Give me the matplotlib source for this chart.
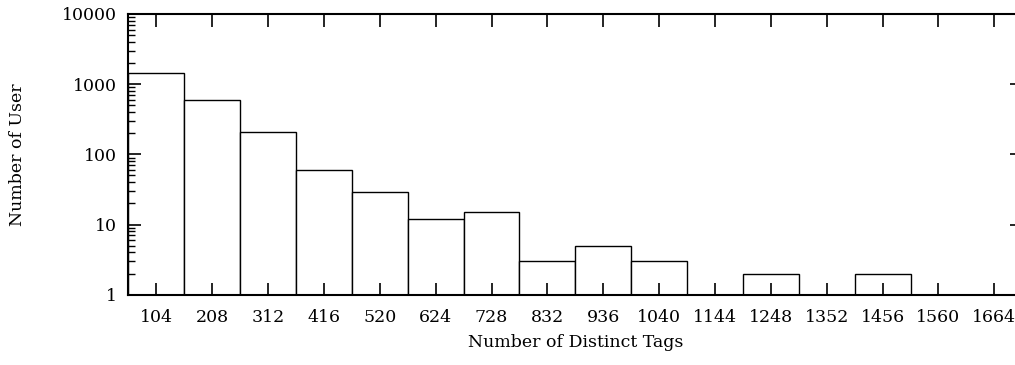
import numpy as np
import matplotlib
matplotlib.use("Agg")
import matplotlib.pyplot as plt
from matplotlib.ticker import LogLocator, NullFormatter, FixedLocator

plt.rcParams['font.family'] = ['DejaVu Serif']

# histogram of distinct tags per user
bins = ["104", "208", "312", "416", "520", "624", "728", "832",
        "936", "1040", "1144", "1248", "1352", "1456", "1560", "1664"]
users = [1420, 590, 205, 60, 29, 12, 15, 3, 5, 3, 1, 2, 1, 2, 1, 1]

fig = plt.figure(figsize=(10.15, 3.65), dpi=100)
ax = fig.add_axes([128.4 / 1015, 1 - 294.7 / 365, (1022.3 - 128.4) / 1015, (294.7 - 14) / 365])

x = np.arange(len(bins))
ax.bar(x, users, width=1.0, bottom=0.0, color='white', edgecolor='black', linewidth=1.0)
ax.set_yscale('log')
ax.set_ylim(1, 10000)
ax.set_xlim(-0.5, len(bins) - 0.5)

ax.set_xticks(x)
ax.set_xticklabels(bins)
ax.yaxis.set_major_locator(FixedLocator([1, 10, 100, 1000, 10000]))
ax.set_yticklabels(["1", "10", "100", "1000", "10000"])
ax.yaxis.set_minor_locator(LogLocator(base=10, subs=np.arange(2, 10)))
ax.yaxis.set_minor_formatter(NullFormatter())

ax.tick_params(axis='both', which='major', direction='in', length=9, width=1.2,
               top=True, right=True, labelsize=12.5)
ax.tick_params(axis='x', which='major', pad=10)
ax.tick_params(axis='y', which='major', pad=8)
ax.tick_params(axis='y', which='minor', direction='in', length=5, width=1.0, right=False)
for s in ax.spines.values():
    s.set_linewidth(1.5)

ax.set_xlabel("Number of Distinct Tags", fontsize=12.5, labelpad=6)
ax.set_ylabel("Number of User", fontsize=12.5, labelpad=26)

fig.savefig("out.png", dpi=100)
